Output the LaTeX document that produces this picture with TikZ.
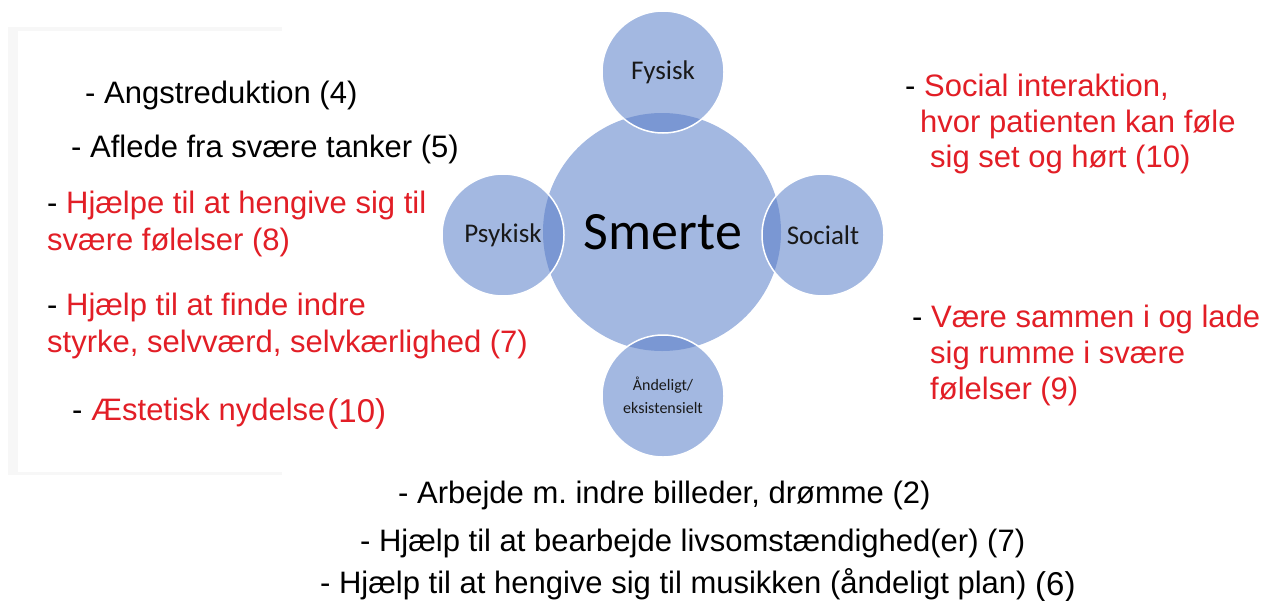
\documentclass[tikz,border=0pt]{standalone}
\usepackage{fontspec}
\setmainfont{Liberation Sans}
\newfontfamily\calibfont{Carlito}
\definecolor{cfill}{RGB}{163,184,225}
\definecolor{clens}{RGB}{122,151,211}
\definecolor{tred}{RGB}{226,30,38}
\definecolor{framegray}{RGB}{247,247,247}
\tikzset{
 bub/.style={circle, minimum size=122pt, inner sep=0pt, fill=cfill},
 core/.style={circle, minimum size=238pt, inner sep=0pt, fill=cfill},
 lbl/.style={font=\calibfont\fontsize{27}{30}\selectfont, inner sep=0pt, text=black!90},
 small/.style={font=\calibfont\fontsize{16}{18}\selectfont, inner sep=0pt, text=black!90},
 txt/.style={font=\fontsize{31}{36}\selectfont, anchor=base west, inner sep=0pt},
}
\frenchspacing
\begin{document}
\begin{tikzpicture}[x=1pt,y=-1pt]
\useasboundingbox (0,0) rectangle (1261,600);
\fill[white] (0,0) rectangle (1261,600);
\fill[framegray] (8,27) rectangle (282,475);
\fill[white] (18,31) rectangle (283,472);
% circles
\node[core] (smerte) at (662,232) {};
\node[bub] (fys) at (663,72) {};
\node[bub] (psy) at (503,235) {};
\node[bub] (soc) at (823,235) {};
\node[bub] (aand) at (663,396) {};
\foreach \n in {fys,psy,soc,aand}{
  \begin{scope}
    \clip (\n.center) circle (61pt);
    \fill[clens] (smerte.center) circle (119pt);
  \end{scope}
  \draw[white, line width=1.5pt] (\n.center) circle (61pt);
}
% circle labels
\node[font=\calibfont\fontsize{54}{60}\selectfont, inner sep=0pt] (tsm) at (663,232) {Smerte};
\node[lbl] (tfys) at (663,72) {Fysisk};
\node[lbl] (tpsy) at (503,235) {Psykisk};
\node[lbl] (tsoc) at (823,235) {Socialt};
\node[small] (taa1) at (663,385) {Åndeligt/};
\node[small] (taa2) at (663,408) {eksistensielt};
% left texts
\node[txt] (l1) at (85,103) {- Angstreduktion (4)};
\node[txt] (l2) at (71,157) {- Aflede fra svære tanker (5)};
\node[txt] (l3) at (47,213) {- \textcolor{tred}{Hjælpe til at hengive sig til}};
\node[txt, text=tred] (l4) at (47,250) {svære følelser (8)};
\node[txt] (l5) at (47,315) {- \textcolor{tred}{Hjælp til at finde indre}};
\node[txt, text=tred] (l6) at (47,352) {styrke, selvværd, selvkærlighed (7)};
\node[txt] (l7) at (72,420) {- \textcolor{tred}{Æstetisk nydelse\kern2pt\raisebox{-2pt}{\fontsize{33}{36}\selectfont(10)}}};
% right texts
\node[txt] (r1) at (905,96) {- \textcolor{tred}{Social interaktion,}};
\node[txt, text=tred] (r2) at (920,132) {hvor patienten kan føle};
\node[txt, text=tred] (r3) at (930,167) {sig set og hørt (10)};
\node[txt] (r4) at (912,327) {- \textcolor{tred}{Være sammen i og lade}};
\node[txt, text=tred] (r5) at (930,363) {sig rumme i svære};
\node[txt, text=tred] (r6) at (930,399) {følelser (9)};
% bottom texts
\node[txt] (b1) at (398,503) {- Arbejde m. indre billeder, drømme (2)};
\node[txt] (b2) at (360,551) {- Hjælp til at bearbejde livsomstændighed(er) (7)};
\node[txt] (b3) at (320,593) {- Hjælp til at hengive sig til musikken (åndeligt plan) \raisebox{-2pt}{\fontsize{33}{36}\selectfont(6)}};
\end{tikzpicture}
\end{document}
